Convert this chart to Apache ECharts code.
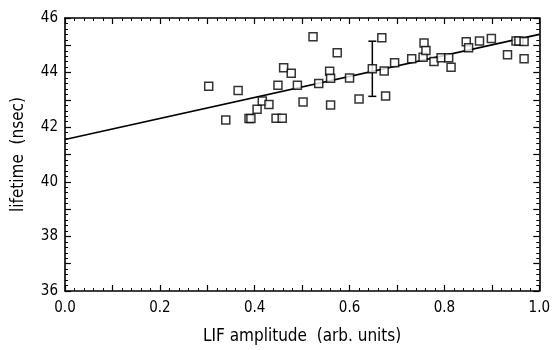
<!DOCTYPE html>
<html>
<head>
<meta charset="utf-8">
<script src="https://cdn.jsdelivr.net/npm/echarts@6/dist/echarts.min.js"></script>
<style>html,body{margin:0;padding:0;background:#fff}#c{width:553px;height:350px}</style>
</head>
<body>
<div id="c"></div>
<script>
// LIF amplitude (arb. units)
var ampX = [0.303, 0.365, 0.339, 0.388, 0.392, 0.405, 0.416, 0.430, 0.445, 0.458, 0.449, 0.461, 0.477, 0.490, 0.502, 0.523, 0.535, 0.574, 0.558, 0.560, 0.600, 0.560, 0.620, 0.648, 0.668, 0.673, 0.676, 0.695, 0.731, 0.755, 0.757, 0.761, 0.778, 0.793, 0.809, 0.814, 0.846, 0.851, 0.874, 0.899, 0.933, 0.951, 0.957, 0.968, 0.968];
// lifetime (nsec)
var lifeY = [43.50, 43.34, 42.26, 42.32, 42.32, 42.66, 42.96, 42.83, 42.33, 42.33, 43.54, 44.18, 43.98, 43.54, 42.92, 45.31, 43.60, 44.73, 44.05, 43.79, 43.80, 42.81, 43.03, 44.14, 45.28, 44.06, 43.14, 44.36, 44.51, 44.56, 45.08, 44.81, 44.41, 44.54, 44.54, 44.20, 45.13, 44.91, 45.16, 45.25, 44.65, 45.16, 45.16, 45.14, 44.51];
// linear fit
var fitX = [0.0, 1.0];
var fitY = [41.55, 45.40];
// representative error bar
var errX = [0.648];
var errLow = [43.13];
var errHigh = [45.15];
// axes
var xMin = 0, xMax = 1, xStep = 0.1;
var yMin = 36, yMax = 46, yStep = 1;

var FONT = "'Liberation Sans Narrow','DejaVu Sans Condensed','Liberation Sans',sans-serif";
var scatterData = ampX.map(function (x, i) { return [x, lifeY[i]]; });
var fitData = fitX.map(function (x, i) { return [x, fitY[i]]; });
var errData = errX.map(function (x, i) { return [x, errLow[i], errHigh[i]]; });

function axisCommon() {
  return {
    axisLine: { show: true, onZero: false, lineStyle: { color: '#000', width: 1.6 } },
    axisTick: { show: true, inside: true, length: 6, lineStyle: { color: '#000', width: 1.2 } },
    minorTick: { show: true, splitNumber: 5, length: 3, lineStyle: { color: '#000', width: 1 } },
    splitLine: { show: false },
    minorSplitLine: { show: false }
  };
}

var chart = echarts.init(document.getElementById('c'), null, { renderer: 'canvas' });
chart.setOption({
  animation: false,
  backgroundColor: '#fff',
  grid: { left: 65, right: 11, top: 18, bottom: 53, containLabel: false },
  xAxis: [
    Object.assign(axisCommon(), {
      type: 'value', min: xMin, max: xMax, interval: xStep, position: 'bottom',
      name: 'LIF amplitude  (arb. units)', nameLocation: 'middle', nameGap: 37,
      nameTextStyle: { fontFamily: FONT, fontSize: 17, color: '#000' },
      axisLabel: {
        margin: 10, fontFamily: FONT, fontSize: 15, color: '#000',
        formatter: function (v) { var k = Math.round(v * 10); return k % 2 === 0 ? v.toFixed(1) : ''; }
      }
    }),
    Object.assign(axisCommon(), {
      type: 'value', min: xMin, max: xMax, interval: xStep, position: 'top',
      axisLabel: { show: false }
    })
  ],
  yAxis: [
    Object.assign(axisCommon(), {
      type: 'value', min: yMin, max: yMax, interval: yStep, position: 'left',
      name: 'lifetime  (nsec)', nameLocation: 'middle', nameGap: 38,
      nameTextStyle: { fontFamily: FONT, fontSize: 17, color: '#000' },
      axisLabel: {
        margin: 7, fontFamily: FONT, fontSize: 15, color: '#000',
        formatter: function (v) { return Math.round(v) % 2 === 0 ? String(Math.round(v)) : ''; }
      }
    }),
    Object.assign(axisCommon(), {
      type: 'value', min: yMin, max: yMax, interval: yStep, position: 'right',
      axisLabel: { show: false }
    })
  ],
  series: [
    {
      type: 'line', data: fitData, showSymbol: false, symbol: 'none',
      lineStyle: { color: '#000', width: 1.6 }, z: 2
    },
    {
      type: 'custom', data: errData, z: 3,
      renderItem: function (params, api) {
        var lo = api.coord([api.value(0), api.value(1)]);
        var hi = api.coord([api.value(0), api.value(2)]);
        var cap = 4;
        var st = { stroke: '#000', lineWidth: 1.5 };
        return {
          type: 'group', children: [
            { type: 'line', shape: { x1: lo[0], y1: lo[1], x2: hi[0], y2: hi[1] }, style: st },
            { type: 'line', shape: { x1: lo[0] - cap, y1: lo[1], x2: lo[0] + cap, y2: lo[1] }, style: st },
            { type: 'line', shape: { x1: hi[0] - cap, y1: hi[1], x2: hi[0] + cap, y2: hi[1] }, style: st }
          ]
        };
      }
    },
    {
      type: 'scatter', data: scatterData, symbol: 'rect', symbolSize: 8, z: 4,
      itemStyle: { color: '#fff', borderColor: '#000', borderWidth: 1.5 }
    }
  ]
});
</script>
</body>
</html>
